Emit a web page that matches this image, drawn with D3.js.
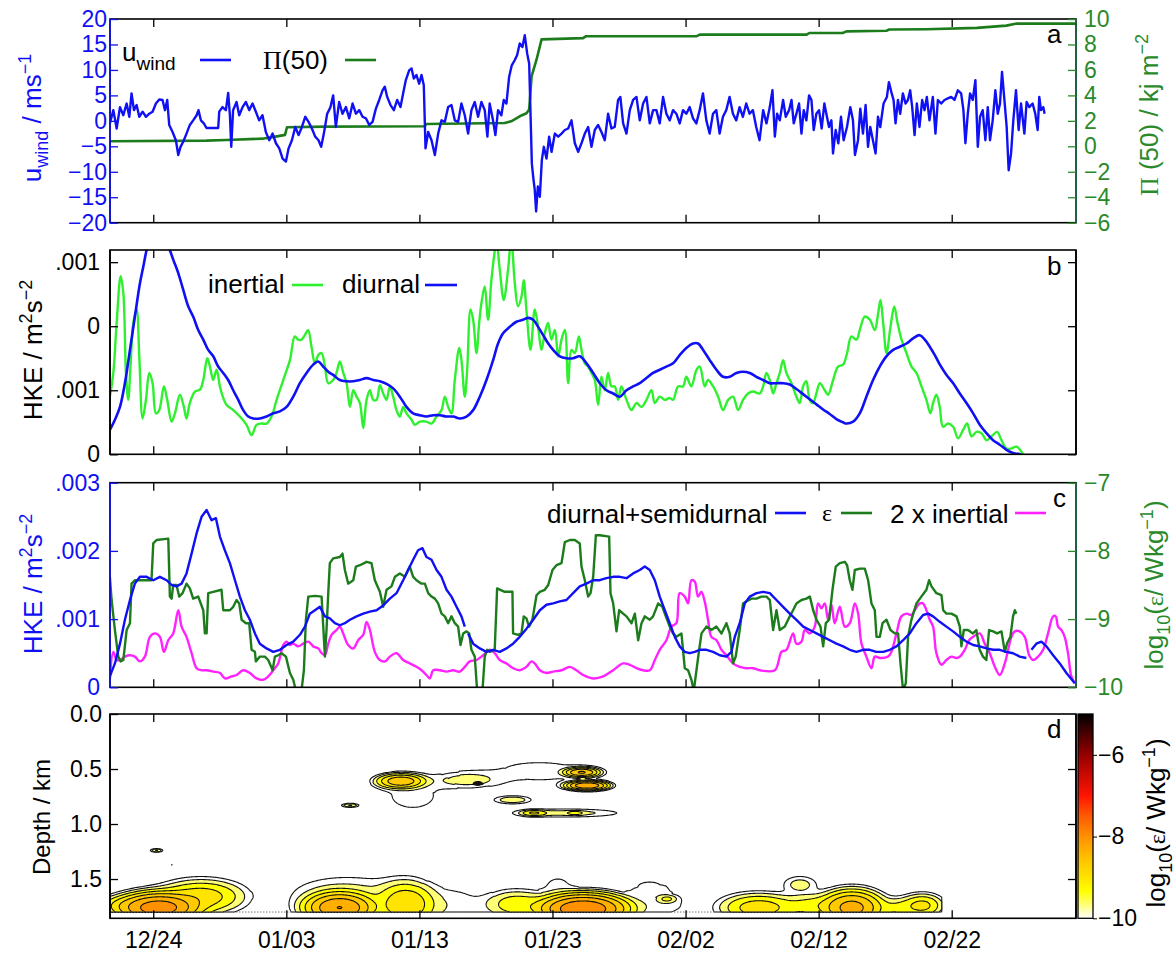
<!DOCTYPE html>
<html>
<head>
<meta charset="utf-8">
<script src="https://cdn.jsdelivr.net/npm/d3@7"></script>
<style>
  body { margin: 0; background: #fff; }
  svg { display: block; }
  text { font-family: "Liberation Sans", Arial, Helvetica, sans-serif; }
  .serif { font-family: "Liberation Serif", "Times New Roman", serif; }
</style>
</head>
<body>
<svg id="chart" width="1176" height="954"></svg>
<script>
// ---- time axis: days relative to 24 December ----
const dayTicks = [0, 10, 20, 30, 40, 50, 60];
const dateLabels = ["12/24", "01/03", "01/13", "01/23", "02/02", "02/12", "02/22"];

// ---- panel a: zonal wind (m/s) and wind work Pi(50) (kJ/m^2) ----
const windU = [[-3.26,-0.5],[-3.0,2.1],[-2.75,-1.5],[-2.5,2.7],[-2.25,1.1],[-2.0,3.4],[-1.8,0.8],[-1.63,5.4],[-1.45,2.1],[-1.25,3.1],[-1.05,0.8],[-0.8,1.8],[-0.55,0.8],[-0.3,1.4],[-0.05,1.8],[0.2,3.4],[0.45,4.2],[0.7,4.1],[0.88,2.1],[1.05,4.1],[1.2,-0.8],[1.45,-2.2],[1.7,-3.8],[1.88,-6.7],[2.05,-5.1],[2.25,-4.1],[2.5,-2.5],[2.75,-0.8],[3.0,0.1],[3.26,1.1],[3.4,2.1],[3.58,0.1],[3.8,-0.5],[4.0,-1.4],[4.88,-1.4],[4.96,1.8],[5.2,2.7],[5.46,2.1],[5.63,5.5],[5.76,1.1],[5.86,-5.1],[6.0,2.1],[6.26,3.7],[6.46,1.1],[6.71,2.7],[6.96,3.7],[7.21,2.1],[7.46,3.4],[7.71,1.8],[7.96,0.1],[8.21,1.1],[8.46,-2.2],[8.72,-3.8],[8.97,-2.5],[9.22,-4.4],[9.47,-5.4],[9.72,-7.4],[9.97,-8.0],[10.17,-5.4],[10.42,-3.8],[10.67,-1.2],[10.92,-2.8],[11.17,-1.2],[11.42,0.8],[11.67,-0.2],[11.92,-1.5],[12.17,-3.1],[12.42,-3.8],[12.62,-5.1],[12.82,-2.5],[13.07,1.4],[13.32,2.7],[13.52,5.0],[13.72,-1.2],[13.97,3.7],[14.22,1.4],[14.48,2.7],[14.73,0.5],[14.98,3.4],[15.23,1.4],[15.48,2.1],[15.73,0.8],[15.98,0.5],[16.23,-0.8],[16.48,-0.2],[16.73,2.4],[16.98,4.1],[17.23,6.0],[17.4,6.7],[17.58,4.7],[17.83,3.1],[18.08,2.1],[18.33,4.1],[18.58,2.7],[18.78,5.4],[18.98,8.0],[19.23,9.9],[19.41,10.3],[19.58,8.3],[19.78,9.0],[19.98,7.3],[20.16,9.0],[20.33,7.0],[20.46,-5.4],[20.66,-2.2],[20.91,-3.8],[21.16,-6.7],[21.41,-2.5],[21.66,0.1],[21.91,-0.2],[22.16,2.7],[22.41,3.1],[22.66,0.1],[22.91,-0.2],[23.16,3.4],[23.41,1.1],[23.66,-2.5],[23.91,2.1],[24.16,3.7],[24.41,0.8],[24.66,3.7],[24.91,2.1],[25.11,-3.1],[25.28,3.4],[25.53,0.1],[25.71,-2.8],[25.91,2.1],[26.16,1.1],[26.34,4.1],[26.54,3.4],[26.74,8.6],[26.94,10.9],[27.16,11.9],[27.34,12.9],[27.54,15.2],[27.74,14.5],[27.92,16.8],[28.1,13.2],[28.25,11.2],[28.35,1.4],[28.45,-8.4],[28.55,-11.0],[28.67,-13.6],[28.77,-17.8],[28.9,-12.9],[29.05,-14.9],[29.2,-7.7],[29.35,-5.1],[29.55,-7.4],[29.75,-3.1],[29.93,-6.1],[30.18,-2.5],[30.43,-3.1],[30.68,-2.5],[30.93,-1.8],[31.18,-1.5],[31.43,0.1],[31.68,-4.4],[31.93,-6.1],[32.18,-4.4],[32.43,-2.5],[32.68,-1.2],[32.93,-5.1],[33.18,-1.8],[33.43,-0.8],[33.68,-2.2],[33.93,-3.8],[34.18,1.4],[34.43,-1.5],[34.68,-1.2],[34.93,4.1],[35.1,4.7],[35.31,-0.5],[35.56,-2.5],[35.81,2.1],[36.06,4.1],[36.31,4.7],[36.56,0.1],[36.81,3.4],[37.06,4.7],[37.31,-0.5],[37.56,2.1],[37.81,2.1],[38.06,-0.5],[38.31,4.7],[38.56,1.4],[38.81,0.1],[39.06,2.1],[39.31,1.4],[39.56,-0.5],[39.81,2.1],[40.06,1.4],[40.31,2.7],[40.56,0.5],[40.81,-0.5],[41.06,2.1],[41.31,5.4],[41.56,0.1],[41.81,-2.5],[42.06,1.4],[42.31,2.1],[42.56,-2.5],[42.81,0.8],[43.06,2.1],[43.31,4.7],[43.56,1.4],[43.81,0.1],[44.06,2.7],[44.31,0.8],[44.56,3.4],[44.81,1.4],[45.06,2.1],[45.31,-1.2],[45.56,-3.8],[45.83,2.1],[46.08,-0.5],[46.33,2.7],[46.53,6.0],[46.71,-3.1],[46.88,1.4],[47.08,0.1],[47.33,4.1],[47.53,0.8],[47.78,2.1],[47.96,4.1],[48.13,-0.5],[48.33,1.4],[48.53,3.4],[48.71,-2.5],[48.88,2.1],[49.08,0.1],[49.28,5.0],[49.46,4.1],[49.63,-1.8],[49.83,1.4],[50.03,2.1],[50.23,-1.5],[50.43,3.4],[50.58,1.4],[50.78,-1.2],[50.96,0.1],[51.08,-6.4],[51.28,-1.8],[51.48,-4.4],[51.68,0.8],[51.88,-3.8],[52.13,-1.2],[52.38,2.7],[52.58,0.1],[52.73,-6.7],[52.96,-3.8],[53.13,2.4],[53.33,-2.5],[53.53,3.1],[53.71,-5.1],[53.88,-1.2],[54.08,-3.8],[54.28,-6.4],[54.46,0.8],[54.63,-1.2],[54.88,3.4],[55.13,4.7],[55.28,7.6],[55.46,5.7],[55.63,4.1],[55.78,-0.5],[55.96,4.1],[56.13,1.4],[56.33,5.4],[56.53,3.4],[56.71,4.1],[56.88,6.0],[57.03,2.7],[57.21,-2.8],[57.38,3.4],[57.58,-1.2],[57.78,4.1],[57.96,2.1],[58.13,4.7],[58.33,0.1],[58.58,4.7],[58.78,-2.5],[58.96,4.1],[59.21,3.4],[59.46,4.1],[59.71,4.4],[59.96,4.7],[60.21,4.1],[60.46,6.0],[60.71,5.4],[60.88,2.1],[61.03,-4.4],[61.21,1.4],[61.38,5.4],[61.58,4.1],[61.78,8.0],[61.96,-5.1],[62.13,0.8],[62.33,2.1],[62.53,-3.8],[62.71,2.7],[62.88,-3.8],[63.08,0.1],[63.28,6.0],[63.46,1.4],[63.63,3.4],[63.78,9.6],[63.96,4.1],[64.13,-1.2],[64.28,-9.7],[64.46,-6.4],[64.63,0.1],[64.83,6.0],[65.03,-1.8],[65.21,3.4],[65.46,-2.5],[65.63,3.7],[65.83,2.7],[66.08,3.4],[66.28,1.4],[66.46,-1.8],[66.58,4.7],[66.71,2.1],[66.88,2.7],[66.98,1.4]];

const windWork = [[-3.25,0.4],[4.0,0.45],[5.5,0.5],[8.2,0.6],[9.4,0.8],[9.9,0.9],[10.05,1.5],[13.0,1.55],[20.4,1.57],[20.5,1.75],[26.4,1.83],[26.9,1.96],[27.54,2.36],[28.05,2.6],[28.25,2.9],[28.43,5.5],[28.8,6.8],[29.18,8.4],[32.3,8.5],[32.5,8.64],[40.8,8.64],[41.07,8.77],[49.1,8.77],[49.3,8.9],[51.8,8.9],[52.1,9.03],[55.1,9.08],[55.3,9.17],[58.1,9.2],[61.9,9.3],[64.1,9.48],[64.9,9.64],[69.34,9.64]];

// ---- panel b: band-passed kinetic energy (1e-3 m^2 s^-2) ----
const hkeInertial = [[-3.26,0.9],[-3.0,1.27],[-2.75,2.05],[-2.45,2.78],[-2.25,2.52],[-2.05,1.27],[-1.88,0.85],[-1.7,1.42],[-1.5,2.05],[-1.25,2.26],[-1.05,1.53],[-0.8,0.56],[-0.55,0.85],[-0.3,1.27],[-0.05,1.11],[0.2,0.64],[0.45,0.69],[0.8,1.06],[1.05,0.85],[1.38,0.51],[1.63,0.64],[2.0,0.93],[2.3,0.74],[2.5,0.56],[2.75,0.8],[3.13,0.98],[3.51,1.01],[3.76,1.16],[4.06,1.5],[4.26,1.37],[4.51,1.16],[4.76,1.32],[5.01,1.06],[5.26,0.88],[5.51,0.77],[6.01,0.69],[6.51,0.59],[7.01,0.46],[7.39,0.3],[7.76,0.46],[8.14,0.48],[8.51,0.48],[8.89,0.59],[9.27,0.85],[9.77,1.16],[10.27,1.47],[10.64,1.84],[10.89,1.79],[11.14,1.79],[11.39,1.86],[11.64,1.94],[11.89,1.68],[12.15,1.42],[12.4,1.55],[12.65,1.58],[12.9,1.37],[13.15,1.11],[13.52,1.16],[13.77,1.27],[14.02,1.45],[14.28,1.27],[14.53,1.11],[14.78,0.74],[15.03,1.0],[15.28,0.9],[15.53,0.8],[15.78,0.41],[16.03,0.85],[16.28,1.0],[16.53,0.85],[16.78,0.85],[17.03,1.08],[17.28,0.95],[17.53,0.85],[17.78,1.06],[18.03,0.9],[18.28,0.69],[18.53,0.59],[18.78,0.74],[19.03,0.64],[19.41,0.54],[19.66,0.46],[20.03,0.51],[20.53,0.51],[20.91,0.48],[21.29,0.59],[21.66,0.69],[21.91,0.9],[22.16,0.74],[22.41,0.64],[22.66,1.16],[22.99,1.66],[23.16,1.47],[23.41,0.9],[23.59,1.32],[23.84,2.26],[24.04,2.1],[24.29,1.58],[24.49,2.05],[24.66,2.36],[24.91,2.62],[25.16,2.1],[25.41,2.72],[25.67,3.19],[25.79,3.35],[26.04,2.88],[26.34,2.41],[26.66,2.88],[26.9,3.35],[27.17,2.67],[27.41,2.31],[27.67,2.46],[27.84,2.72],[28.04,2.26],[28.35,1.63],[28.67,2.26],[28.92,1.99],[29.17,1.63],[29.42,1.89],[29.67,2.05],[29.92,1.79],[30.18,1.94],[30.43,1.53],[30.68,1.79],[30.93,1.94],[31.18,1.11],[31.43,1.63],[31.68,1.58],[31.98,1.84],[32.18,1.63],[32.43,1.42],[32.68,1.37],[32.93,1.27],[33.18,1.16],[33.43,0.77],[33.68,1.21],[33.93,1.0],[34.18,1.27],[34.43,1.06],[34.68,1.06],[34.93,0.85],[35.18,1.06],[35.56,0.85],[35.94,0.69],[36.31,0.8],[36.69,0.74],[37.06,0.85],[37.44,1.0],[37.69,0.8],[38.06,0.9],[38.44,0.85],[38.81,0.88],[39.06,0.85],[39.44,1.06],[39.81,1.06],[40.06,1.21],[40.43,1.06],[40.82,1.32],[41.07,1.37],[41.44,1.06],[41.69,1.16],[42.07,1.06],[42.45,0.9],[42.82,0.69],[43.2,0.85],[43.57,0.9],[43.95,0.69],[44.32,0.85],[44.7,0.95],[45.08,0.98],[45.58,0.95],[45.83,1.06],[46.08,1.27],[46.33,1.16],[46.58,0.95],[46.83,1.11],[47.08,1.27],[47.33,1.47],[47.58,1.27],[47.96,1.11],[48.33,0.9],[48.58,0.8],[48.83,1.06],[49.08,1.14],[49.33,0.85],[49.58,0.8],[49.83,0.95],[50.09,1.11],[50.46,1.0],[50.71,0.93],[51.09,1.16],[51.46,1.37],[51.84,1.4],[52.14,1.58],[52.46,1.84],[52.84,1.79],[53.09,1.94],[53.47,2.15],[53.85,2.1],[54.22,1.94],[54.47,2.2],[54.65,2.41],[54.85,2.05],[55.1,1.58],[55.4,1.99],[55.68,2.31],[55.93,2.05],[56.23,1.79],[56.6,1.58],[56.98,1.37],[57.35,1.27],[57.73,1.06],[58.1,0.85],[58.4,0.64],[58.6,0.8],[58.85,0.93],[59.1,0.74],[59.35,0.43],[59.73,0.48],[60.11,0.43],[60.48,0.25],[60.86,0.38],[61.16,0.48],[61.49,0.28],[61.86,0.35],[62.24,0.33],[62.61,0.22],[62.99,0.28],[63.41,0.35],[63.74,0.22],[64.12,0.09],[64.49,0.09],[64.87,0.12],[65.37,0.0]];

const hkeDiurnal = [[-3.26,0.38],[-2.88,0.54],[-2.5,0.74],[-2.13,1.11],[-1.75,1.63],[-1.38,2.15],[-1.0,2.67],[-0.75,2.93],[-0.5,3.19],[-0.1,3.5],[0.4,3.65],[0.9,3.4],[1.25,3.19],[1.5,3.04],[1.88,2.83],[2.25,2.57],[2.63,2.31],[3.0,2.15],[3.38,1.94],[3.76,1.79],[4.13,1.63],[4.51,1.53],[4.88,1.37],[5.26,1.27],[5.63,1.16],[6.01,1.0],[6.39,0.85],[6.76,0.69],[7.14,0.59],[7.51,0.56],[8.01,0.56],[8.51,0.59],[9.02,0.64],[9.52,0.67],[10.02,0.74],[10.52,0.9],[11.02,1.11],[11.52,1.27],[12.02,1.4],[12.4,1.45],[12.77,1.37],[13.15,1.29],[13.52,1.24],[14.02,1.16],[14.53,1.14],[15.03,1.14],[15.53,1.16],[16.03,1.19],[16.53,1.16],[17.03,1.14],[17.53,1.1],[18.03,1.03],[18.53,0.9],[19.03,0.74],[19.53,0.64],[20.03,0.61],[20.53,0.59],[21.04,0.61],[21.54,0.61],[22.04,0.59],[22.54,0.59],[23.04,0.56],[23.54,0.59],[24.04,0.69],[24.54,0.9],[25.04,1.16],[25.54,1.47],[25.91,1.73],[26.29,1.89],[26.79,1.99],[27.29,2.07],[27.79,2.1],[28.17,2.13],[28.55,2.1],[28.92,1.99],[29.3,1.86],[29.68,1.73],[30.05,1.63],[30.55,1.53],[31.05,1.5],[31.55,1.5],[32.05,1.53],[32.56,1.42],[33.06,1.27],[33.56,1.11],[34.06,1.0],[34.56,0.95],[35.06,0.9],[35.56,1.0],[36.06,1.06],[36.56,1.11],[37.06,1.19],[37.56,1.27],[38.06,1.32],[38.56,1.37],[39.06,1.42],[39.56,1.55],[40.06,1.66],[40.57,1.73],[40.94,1.73],[41.32,1.63],[41.82,1.47],[42.32,1.32],[42.82,1.21],[43.32,1.21],[43.82,1.27],[44.32,1.29],[44.82,1.27],[45.32,1.21],[45.83,1.16],[46.33,1.11],[46.83,1.11],[47.33,1.11],[47.83,1.09],[48.33,1.02],[48.83,0.94],[49.33,0.86],[49.83,0.78],[50.33,0.7],[50.83,0.63],[51.33,0.55],[51.83,0.5],[52.09,0.48],[52.59,0.51],[53.09,0.64],[53.59,0.9],[54.09,1.16],[54.59,1.37],[55.09,1.53],[55.6,1.63],[56.1,1.68],[56.6,1.73],[57.1,1.81],[57.6,1.86],[57.98,1.79],[58.35,1.68],[58.73,1.55],[59.11,1.4],[59.61,1.24],[60.11,1.11],[60.61,0.95],[61.11,0.8],[61.61,0.64],[62.11,0.46],[62.61,0.33],[63.11,0.22],[63.61,0.15],[64.11,0.07],[64.61,0.02],[65.19,0.0]];

// ---- panel c: tidal HKE (1e-3 m^2 s^-2), log10 dissipation, 2 x inertial HKE ----
const hkeTidal = [[-3.26,0.16],[-2.88,0.35],[-2.5,0.64],[-2.13,0.99],[-1.75,1.28],[-1.38,1.52],[-1.0,1.62],[-0.5,1.62],[0.0,1.57],[0.5,1.62],[1.0,1.57],[1.38,1.5],[1.75,1.48],[2.13,1.52],[2.5,1.67],[2.88,1.96],[3.26,2.26],[3.63,2.5],[4.01,2.6],[4.38,2.45],[4.71,2.48],[5.01,2.21],[5.38,2.01],[5.76,1.82],[6.14,1.57],[6.51,1.33],[6.89,1.13],[7.26,0.99],[7.64,0.79],[8.01,0.64],[8.51,0.57],[9.02,0.52],[9.52,0.55],[10.02,0.62],[10.52,0.67],[11.02,0.77],[11.4,0.89],[11.77,1.08],[12.15,1.13],[12.52,1.18],[12.9,1.04],[13.27,1.01],[13.65,0.94],[14.02,0.91],[14.4,0.94],[14.78,0.99],[15.28,1.04],[15.78,1.08],[16.28,1.11],[16.78,1.13],[17.28,1.2],[17.78,1.3],[18.28,1.38],[18.78,1.57],[19.15,1.72],[19.53,1.87],[19.9,2.01],[20.23,2.04],[20.53,1.91],[20.91,1.87],[21.29,1.72],[21.66,1.62],[22.04,1.43],[22.41,1.33],[22.79,1.18],[23.16,1.04],[23.41,0.89],[23.5,null],[23.66,0.79],[24.04,0.64],[24.54,0.57],[25.04,0.52],[25.54,0.55],[26.04,0.52],[26.54,0.57],[27.04,0.64],[27.54,0.74],[28.05,0.86],[28.55,0.99],[29.05,1.13],[29.55,1.21],[30.05,1.23],[30.55,1.26],[31.05,1.28],[31.55,1.38],[32.05,1.48],[32.55,1.52],[33.05,1.57],[33.55,1.57],[34.05,1.6],[34.56,1.62],[35.06,1.62],[35.56,1.6],[36.06,1.67],[36.56,1.72],[36.94,1.77],[37.31,1.72],[37.69,1.57],[38.06,1.33],[38.44,1.13],[38.81,0.94],[39.19,0.74],[39.56,0.6],[39.94,0.52],[40.31,0.5],[40.69,0.52],[41.07,0.55],[41.57,0.55],[42.07,0.52],[42.57,0.47],[43.07,0.45],[43.45,0.52],[43.7,0.74],[44.07,0.94],[44.45,1.23],[44.82,1.33],[45.33,1.38],[45.83,1.4],[46.33,1.38],[46.83,1.28],[47.33,1.18],[47.83,1.08],[48.33,0.99],[48.84,0.89],[49.34,0.84],[49.84,0.79],[50.34,0.74],[50.84,0.69],[51.34,0.64],[51.84,0.6],[52.34,0.55],[52.84,0.52],[53.34,0.55],[53.84,0.55],[54.34,0.52],[54.85,0.52],[55.35,0.55],[55.85,0.6],[56.35,0.69],[56.85,0.79],[57.35,0.94],[57.85,1.06],[58.23,1.08],[58.6,1.04],[59.1,0.96],[59.6,0.89],[60.1,0.82],[60.61,0.74],[61.11,0.67],[61.61,0.62],[62.11,0.6],[62.61,0.57],[63.11,0.55],[63.61,0.55],[64.11,0.52],[64.61,0.5],[65.11,0.45],[65.61,0.43],[65.8,null],[65.99,0.55],[66.36,0.64],[66.74,0.67],[67.12,0.6],[67.62,0.47],[68.12,0.35],[68.62,0.21],[69.25,0.06]];

const logEps = [[-3.26,-8.38],[-3.13,-8.72],[-2.88,-9.16],[-2.63,-9.55],[-2.45,-9.62],[-2.25,-9.6],[-2.0,-9.16],[-1.75,-9.06],[-1.63,-8.48],[-1.38,-8.43],[-0.13,-8.43],[0.0,-7.89],[0.25,-7.84],[1.13,-7.82],[1.25,-8.67],[1.38,-8.7],[1.5,-8.5],[1.75,-8.5],[1.95,-8.67],[2.2,-8.62],[2.5,-8.48],[2.75,-8.55],[3.0,-8.7],[3.38,-8.67],[3.76,-8.87],[3.88,-9.21],[4.01,-9.21],[4.13,-8.62],[4.51,-8.6],[5.13,-8.57],[5.26,-8.87],[5.76,-8.87],[6.01,-8.82],[6.26,-8.72],[6.46,-8.77],[6.64,-9.01],[6.96,-9.06],[7.21,-9.06],[7.39,-9.45],[7.64,-9.48],[7.71,-9.62],[8.01,-9.55],[8.39,-9.55],[8.64,-9.6],[8.97,-9.75],[9.14,-9.55],[9.39,-9.53],[9.64,-9.5],[9.97,-9.55],[10.27,-9.79],[10.52,-9.89],[10.72,-10.05],[11.14,-10.05],[11.32,-9.75],[11.47,-9.01],[11.65,-8.67],[12.15,-8.66],[12.65,-8.67],[12.9,-9.55],[13.02,-9.16],[13.15,-8.62],[13.27,-8.18],[13.52,-8.11],[14.02,-8.09],[14.22,-8.04],[14.4,-8.28],[14.65,-8.48],[15.03,-8.43],[15.23,-8.23],[15.53,-8.21],[16.03,-8.16],[16.4,-8.18],[16.65,-8.43],[17.03,-8.6],[17.28,-8.82],[17.53,-8.57],[17.9,-8.52],[18.16,-8.38],[18.53,-8.33],[18.91,-8.38],[19.28,-8.23],[19.53,-8.38],[19.78,-8.43],[20.16,-8.48],[20.41,-8.48],[20.66,-8.62],[20.91,-8.67],[21.16,-8.7],[21.41,-8.77],[21.66,-8.92],[21.91,-8.96],[22.16,-9.06],[22.41,-8.96],[22.66,-9.06],[22.91,-9.11],[23.09,-9.38],[23.29,-9.21],[23.54,-9.18],[23.74,-9.21],[23.91,-9.45],[24.16,-9.55],[24.34,-10.05],[24.74,-10.05],[24.91,-9.55],[25.09,-9.45],[25.29,-9.48],[25.66,-9.45],[25.84,-8.55],[26.41,-8.6],[26.99,-8.6],[27.04,-9.21],[27.42,-9.23],[27.67,-9.21],[27.84,-8.96],[28.04,-8.99],[28.24,-9.11],[28.49,-9.01],[28.8,-8.65],[29.05,-8.6],[29.42,-8.57],[29.68,-8.5],[30.0,-8.28],[30.3,-8.21],[30.68,-8.18],[30.93,-7.87],[31.3,-7.84],[31.68,-7.84],[32.05,-7.89],[32.18,-8.23],[32.43,-8.43],[32.68,-8.67],[32.86,-8.62],[33.06,-8.38],[33.26,-7.77],[33.56,-7.77],[34.26,-7.79],[34.36,-8.62],[34.56,-8.77],[34.81,-9.18],[35.01,-8.87],[35.31,-8.92],[35.56,-8.96],[35.94,-9.06],[36.19,-8.92],[36.44,-9.31],[36.69,-9.06],[36.94,-8.96],[37.31,-9.01],[37.56,-8.96],[37.94,-8.77],[38.26,-8.82],[38.44,-8.92],[38.81,-9.11],[39.06,-9.21],[39.31,-9.26],[39.69,-9.21],[39.94,-9.72],[40.19,-9.75],[40.44,-9.89],[40.62,-10.05],[40.82,-9.75],[41.02,-9.45],[41.2,-9.21],[41.57,-9.11],[41.94,-9.16],[42.32,-9.11],[42.7,-9.21],[43.07,-9.06],[43.32,-9.21],[43.57,-9.65],[43.77,-9.55],[44.07,-9.16],[44.32,-8.77],[44.57,-8.74],[44.95,-8.7],[45.33,-8.7],[45.7,-8.67],[46.08,-8.67],[46.33,-8.72],[46.58,-9.16],[46.83,-8.87],[47.08,-9.16],[47.46,-9.11],[47.83,-8.96],[48.08,-8.87],[48.33,-8.77],[48.71,-8.72],[49.08,-8.7],[49.34,-8.67],[49.59,-8.87],[49.84,-9.01],[50.14,-9.11],[50.34,-9.4],[50.54,-9.06],[50.79,-9.01],[51.04,-8.57],[51.29,-8.23],[51.59,-8.18],[51.97,-8.16],[52.14,-8.21],[52.34,-8.43],[52.54,-8.57],[52.72,-8.28],[53.09,-8.26],[53.47,-8.26],[53.72,-8.43],[53.97,-8.77],[54.22,-8.87],[54.35,-9.26],[54.6,-9.26],[54.8,-9.06],[55.1,-9.01],[55.4,-9.16],[55.72,-9.21],[55.97,-9.21],[56.15,-9.65],[56.35,-10.05],[56.55,-9.94],[56.72,-9.26],[56.97,-9.01],[57.35,-8.77],[57.72,-8.67],[58.1,-8.57],[58.3,-8.43],[58.48,-8.52],[58.85,-8.62],[59.23,-8.65],[59.36,-8.87],[59.6,-8.92],[59.98,-8.92],[60.36,-8.96],[60.61,-9.11],[60.73,-9.4],[60.91,-9.16],[61.22,-9.16],[61.6,-9.21],[61.85,-9.16],[62.1,-9.45],[62.35,-9.55],[62.6,-9.6],[62.81,-9.16],[63.11,-9.18],[63.41,-9.21],[63.74,-9.18],[63.99,-9.48],[64.17,-9.35],[64.41,-9.26],[64.61,-8.96],[64.74,-8.87],[64.86,-8.92]];

const hkeInertial2x = [[-3.26,0.11],[-3.0,0.52],[-2.75,0.4],[-2.5,0.4],[-2.13,0.45],[-1.75,0.47],[-1.38,0.45],[-1.0,0.38],[-0.63,0.45],[-0.25,0.74],[0.13,0.79],[0.5,0.74],[0.8,0.52],[1.13,0.69],[1.5,0.79],[1.88,1.13],[2.13,0.89],[2.5,0.74],[2.88,0.5],[3.26,0.28],[3.63,0.25],[4.01,0.25],[4.51,0.23],[5.01,0.21],[5.38,0.13],[5.89,0.16],[6.26,0.18],[6.76,0.25],[7.26,0.21],[7.76,0.13],[8.26,0.11],[8.64,0.16],[9.02,0.25],[9.39,0.35],[9.77,0.62],[10.02,0.67],[10.27,0.62],[10.52,0.64],[10.89,0.6],[11.27,0.64],[11.65,0.67],[12.02,0.6],[12.4,0.57],[12.65,0.5],[12.9,0.47],[13.15,0.64],[13.4,0.77],[13.77,0.84],[14.02,0.89],[14.27,0.79],[14.65,0.62],[15.03,0.57],[15.4,0.69],[15.78,0.77],[16.03,0.96],[16.28,0.84],[16.65,0.52],[17.03,0.4],[17.41,0.38],[17.78,0.45],[18.28,0.5],[18.78,0.4],[19.28,0.35],[19.78,0.3],[20.16,0.25],[20.53,0.18],[20.78,0.13],[21.04,0.25],[21.54,0.25],[22.04,0.23],[22.54,0.25],[23.04,0.23],[23.41,0.3],[23.79,0.38],[24.29,0.4],[24.79,0.47],[25.29,0.55],[25.66,0.5],[26.04,0.4],[26.54,0.35],[27.04,0.28],[27.54,0.25],[28.04,0.3],[28.42,0.38],[28.67,0.35],[29.05,0.25],[29.55,0.21],[30.05,0.23],[30.68,0.25],[31.3,0.3],[31.8,0.25],[32.3,0.18],[33.06,0.13],[33.81,0.16],[34.56,0.25],[35.31,0.35],[35.81,0.33],[36.31,0.28],[36.81,0.25],[37.31,0.25],[37.69,0.4],[38.06,0.55],[38.56,0.69],[38.94,0.89],[39.31,0.94],[39.56,1.38],[39.94,1.33],[40.19,1.23],[40.44,1.57],[40.69,1.55],[40.94,1.33],[41.19,1.4],[41.44,1.26],[41.69,0.99],[41.94,0.74],[42.32,0.69],[42.7,0.55],[43.07,0.47],[43.57,0.35],[44.07,0.3],[44.57,0.28],[45.08,0.28],[45.58,0.25],[46.71,0.25],[47.21,0.52],[47.58,0.55],[48.08,0.79],[48.33,0.64],[48.71,0.67],[48.96,0.84],[49.34,0.79],[49.71,0.89],[49.96,1.23],[50.21,1.16],[50.46,1.23],[50.71,0.99],[50.96,1.21],[51.21,0.94],[51.59,1.18],[51.97,0.89],[52.34,0.94],[52.72,1.23],[52.97,1.08],[53.22,0.64],[53.59,0.45],[53.97,0.28],[54.22,0.45],[54.6,0.43],[55.22,0.45],[55.47,0.52],[55.85,0.79],[56.22,1.04],[56.6,1.08],[56.97,1.06],[57.22,1.13],[57.6,1.23],[57.85,1.23],[58.1,1.13],[58.35,0.99],[58.6,0.89],[58.85,0.5],[59.23,0.33],[59.6,0.4],[59.98,0.45],[60.36,0.43],[60.61,0.45],[60.98,0.55],[61.31,0.69],[61.61,0.74],[62.11,0.79],[62.48,0.64],[62.86,0.5],[63.24,0.3],[63.61,0.18],[63.99,0.35],[64.24,0.55],[64.49,0.74],[64.74,0.82],[65.11,0.82],[65.49,0.74],[65.82,0.47],[66.12,0.4],[66.49,0.45],[66.87,0.55],[67.24,0.79],[67.62,1.04],[67.82,1.04],[67.99,0.89],[68.24,0.84],[68.49,0.74],[68.74,0.5],[68.99,0.16],[69.25,0.06]];

// ---- panel d: dissipation patches [day, depth km, half-length days, half-thickness km, peak log10 eps] ----
const epsPatches = [
  // near-bottom layer
  [0.4, 1.76, 4.4, 0.2, -7.8], [3.6, 1.66, 4.0, 0.19, -8.8], [-2.2, 1.74, 2.2, 0.1, -9.1],
  [14.0, 1.76, 3.7, 0.2, -8.0], [14.6, 1.63, 4.2, 0.16, -9.6], [19.0, 1.73, 2.8, 0.26, -8.7], [22.4, 1.74, 2.0, 0.15, -9.75],
  [32.3, 1.77, 4.8, 0.2, -7.7], [27.3, 1.73, 2.8, 0.15, -9.1], [30.4, 1.55, 0.9, 0.07, -9.9],
  [37.3, 1.57, 1.2, 0.06, -9.9], [38.6, 1.68, 0.8, 0.04, -9.3], [38.0, 1.73, 2.0, 0.1, -9.8],
  [45.5, 1.76, 3.6, 0.16, -8.8], [49.5, 1.74, 2.5, 0.12, -9.2], [52.5, 1.76, 3.2, 0.22, -8.2],
  [48.6, 1.55, 1.3, 0.08, -9.5], [56.0, 1.76, 1.8, 0.1, -9.3], [57.8, 1.74, 1.9, 0.13, -8.9],
  // mid-depth patches
  [18.6, 0.61, 2.4, 0.09, -8.4], [19.5, 0.74, 2.0, 0.14, -9.85], [23.5, 0.6, 2.6, 0.08, -9.5],
  [24.4, 0.63, 0.35, 0.015, -7.0], [32.2, 0.53, 1.8, 0.06, -8.3], [32.6, 0.65, 2.2, 0.06, -8.0],
  [29.0, 0.52, 3.5, 0.1, -9.85], [27.0, 0.78, 1.5, 0.04, -9.4], [31.0, 0.9, 4.2, 0.04, -9.5],
  [28.6, 0.9, 1.2, 0.035, -9.0], [31.7, 0.9, 0.7, 0.02, -9.2], [14.8, 0.83, 0.7, 0.02, -9.3],
  [0.25, 1.24, 0.5, 0.018, -9.3], [1.4, 1.37, 0.08, 0.004, -9.9]
];
const epsRecordStart = -3.25, epsRecordEnd = 59.2, epsMaxDepth = 1.8;
const epsLevels = [-10, -9.667, -9.333, -9, -8.667, -8.333, -8, -7.667, -7.333, -7, -6.5, -6];

// colour map for log10 eps
const cmapStops = [-10, -9.667, -9.333, -9, -8.5, -8, -7.5, -7, -6, -5];
const cmapColors = ["#ffffff", "#ffff78", "#ffff00", "#ffe400", "#ffbe00", "#ff9000", "#ff5a00", "#ff1400", "#960000", "#000000"];

// axis tick text
const windTicks = [-20, -15, -10, -5, 0, 5, 10, 15, 20];
const workTicks = [-6, -4, -2, 0, 2, 4, 6, 8, 10];
const hkeBTicks = [0, 1, 2, 3];
const hkeBTickText = ["0", ".001", "0", ".001"];
const hkeCTicks = [0, 1, 2, 3];
const hkeCTickText = ["0", ".001", ".002", ".003"];
const epsTicks = [-10, -9, -8, -7];
const depthTicks = [0, 0.5, 1.0, 1.5];
const cbarTicks = [-10, -8, -6];

// ---------------------------------------------------------------
const BLUE = "#1010f4", LGREEN = "#2ef02e", DGREEN = "#1c7c1c", MAG = "#ff22ff";
const AXGREEN = "#2a8a2a", SPINEGREEN = "#1e6b48";
const minus = v => (v < 0 ? "\u2212" + Math.abs(v) : String(v));

const svg = d3.select("#chart");
const L = 110, R = 1076;
const x = d3.scaleLinear().domain([-3.25, 69.34]).range([L, R]);

const panels = {
  a: [19, 222.7], b: [250, 454.3], c: [482.7, 687.3], d: [714, 918.3]
};
const yA = d3.scaleLinear().domain([-20, 20]).range([panels.a[1], panels.a[0]]);
const yA2 = d3.scaleLinear().domain([-6, 10]).range([panels.a[1], panels.a[0]]);
const yB = d3.scaleLinear().domain([0, 3.19]).range([panels.b[1], panels.b[0]]);
const yC = d3.scaleLinear().domain([0, 3]).range([panels.c[1], panels.c[0]]);
const yC2 = d3.scaleLinear().domain([-10, -7]).range([panels.c[1], panels.c[0]]);
const yD = d3.scaleLinear().domain([0, 1.857]).range([panels.d[0], panels.d[1]]);
const cmap = d3.scaleLinear().domain(cmapStops).range(cmapColors).clamp(true);

const defs = svg.append("defs");
Object.entries(panels).forEach(([k, [t, b]]) => {
  defs.append("clipPath").attr("id", "clip-" + k)
    .append("rect").attr("x", L).attr("y", t).attr("width", R - L).attr("height", b - t);
});

function drawLine(panel, data, yScale, color, width, curve) {
  const line = d3.line().defined(d => d[1] !== null).x(d => x(d[0])).y(d => yScale(d[1]))
    .curve(curve || d3.curveLinear);
  svg.append("path").datum(data)
    .attr("clip-path", `url(#clip-${panel})`)
    .attr("fill", "none").attr("stroke", color).attr("stroke-width", width)
    .attr("stroke-linejoin", "round").attr("d", line);
}

function xTicks(top, bottom, labels) {
  const gt = svg.append("g").attr("transform", `translate(0,${top})`)
    .call(d3.axisTop(x).tickValues(dayTicks).tickSizeInner(-8).tickSizeOuter(0).tickFormat(""));
  const gb = svg.append("g").attr("transform", `translate(0,${bottom})`)
    .call(d3.axisBottom(x).tickValues(dayTicks).tickSizeInner(-8).tickSizeOuter(0).tickPadding(13)
      .tickFormat(labels ? (d, i) => dateLabels[i] : ""));
  [gt, gb].forEach(g => {
    g.select(".domain").remove();
    g.selectAll(".tick line").attr("stroke", "#000").attr("stroke-width", 1.3);
    g.selectAll("text").attr("font-size", 23).attr("fill", "#000");
  });
}

function yAxis(scale, side, values, fmt, color, pad) {
  const ax = (side === "left" ? d3.axisLeft(scale) : d3.axisRight(scale))
    .tickValues(values).tickSizeInner(-8).tickSizeOuter(0).tickPadding(pad).tickFormat(fmt);
  const g = svg.append("g").attr("transform", `translate(${side === "left" ? L : R},0)`).call(ax);
  g.select(".domain").remove();
  g.selectAll(".tick line").attr("stroke", color).attr("stroke-width", 1.3);
  g.selectAll("text").attr("font-size", 23).attr("fill", color);
  return g;
}

function frame(k, leftColor, rightColor) {
  const [t, b] = panels[k];
  svg.append("rect").attr("x", L).attr("y", t).attr("width", R - L).attr("height", b - t)
    .attr("fill", "none").attr("stroke", "#000").attr("stroke-width", 1.6);
  svg.append("line").attr("x1", L).attr("x2", L).attr("y1", t).attr("y2", b)
    .attr("stroke", leftColor).attr("stroke-width", 1.6);
  svg.append("line").attr("x1", R).attr("x2", R).attr("y1", t).attr("y2", b)
    .attr("stroke", rightColor).attr("stroke-width", 1.6);
}

// rotated title built from pieces: [text, baseline shift, font size, class]
function vTitle(cx, cy, pieces, color) {
  const t = svg.append("text").attr("transform", `translate(${cx},${cy}) rotate(-90)`)
    .attr("text-anchor", "middle").attr("fill", color);
  let cur = 0;
  pieces.forEach(([s, shift, size, cls]) => {
    const sp = t.append("tspan").text(s).attr("font-size", size).attr("dy", shift - cur);
    if (cls) sp.attr("class", cls);
    cur = shift;
  });
  return t;
}

function legendSwatch(x1, x2, y, color) {
  svg.append("line").attr("x1", x1).attr("x2", x2).attr("y1", y).attr("y2", y)
    .attr("stroke", color).attr("stroke-width", 2.6);
}

function panelTag(px, py, s) {
  svg.append("text").attr("x", px).attr("y", py).attr("font-size", 26).attr("fill", "#000").text(s);
}

const smooth = d3.curveCatmullRom.alpha(0.5);

// ================= panel a =================
drawLine("a", windWork, yA2, DGREEN, 2.6);
drawLine("a", windU, yA, BLUE, 2.4);
frame("a", BLUE, SPINEGREEN);
xTicks(panels.a[0], panels.a[1], false);
yAxis(yA, "left", windTicks, minus, BLUE, 3);
yAxis(yA2, "right", workTicks, minus, AXGREEN, 8);
vTitle(41, 118, [["u", 0, 26], ["wind", 7, 18], [" / ms", 0, 26], ["\u22121", -10, 18]], BLUE);
vTitle(1158, 115, [["\u03a0", 0, 26, "serif"], [" (50) / kj m", 0, 26], ["\u22122", -10, 18]], AXGREEN);
svg.append("text").attr("x", 122).attr("y", 61).attr("font-size", 26).attr("fill", "#000").text("u")
  .append("tspan").attr("font-size", 19).attr("dy", 9).text("wind");
legendSwatch(200, 231, 60, BLUE);
const piLeg = svg.append("text").attr("x", 263).attr("y", 69).attr("font-size", 26).attr("fill", "#000");
piLeg.append("tspan").attr("class", "serif").text("\u03a0");
piLeg.append("tspan").text("(50)");
legendSwatch(345, 376, 60, DGREEN);
panelTag(1047, 43, "a");

// ================= panel b =================
drawLine("b", hkeInertial, yB, LGREEN, 2.4, smooth);
drawLine("b", hkeDiurnal, yB, BLUE, 2.6, smooth);
frame("b", "#000", "#000");
xTicks(panels.b[0], panels.b[1], false);
yAxis(yB, "left", hkeBTicks, (d, i) => hkeBTickText[i], "#000", 10);
yAxis(yB, "right", hkeBTicks, "", "#000", 8);
vTitle(42, 350, [["HKE / m", 0, 26], ["2", -10, 18], ["s", 0, 26], ["\u22122", -10, 18]], "#000");
svg.append("text").attr("x", 208).attr("y", 293).attr("font-size", 26).text("inertial");
legendSwatch(292, 323, 285, LGREEN);
svg.append("text").attr("x", 342).attr("y", 293).attr("font-size", 26).text("diurnal");
legendSwatch(425, 457, 285, BLUE);
panelTag(1047, 275, "b");

// ================= panel c =================
drawLine("c", hkeInertial2x, yC, MAG, 2.4, smooth);
drawLine("c", logEps, yC2, DGREEN, 2.4);
drawLine("c", hkeTidal, yC, BLUE, 2.4);
frame("c", BLUE, SPINEGREEN);
xTicks(panels.c[0], panels.c[1], false);
yAxis(yC, "left", hkeCTicks, (d, i) => hkeCTickText[i], BLUE, 10);
yAxis(yC2, "right", epsTicks, minus, AXGREEN, 8);
vTitle(42, 584, [["HKE / m", 0, 26], ["2", -10, 18], ["s", 0, 26], ["\u22122", -10, 18]], BLUE);
vTitle(1163, 585, [["log", 0, 26], ["10", 7, 18], ["(", 0, 26], ["\u03b5", 0, 24, "serif"], ["/ Wkg", 0, 26], ["\u22121", -10, 18], [")", 0, 26]], AXGREEN);
svg.append("text").attr("x", 547).attr("y", 523).attr("font-size", 26).text("diurnal+semidurnal");
legendSwatch(775, 806, 513, BLUE);
svg.append("text").attr("x", 822).attr("y", 521).attr("font-size", 24).attr("class", "serif").text("\u03b5");
legendSwatch(841, 872, 513, DGREEN);
svg.append("text").attr("x", 890).attr("y", 523).attr("font-size", 26).text("2 x inertial");
legendSwatch(1015, 1046, 513, MAG);
panelTag(1053, 507, "c");

// ================= panel d =================
const dt = 0.1, dz = 0.005;
const nx = Math.round((epsRecordEnd - epsRecordStart) / dt);
const nz = Math.round(epsMaxDepth / dz);
const field = new Float64Array(nx * nz);
for (let j = 0; j < nz; j++) {
  const z = (j + 0.5) * dz;
  for (let i = 0; i < nx; i++) {
    const t = epsRecordStart + (i + 0.5) * dt;
    let s = 0;
    for (const p of epsPatches) {
      const r2 = ((t - p[0]) / p[2]) ** 2 + ((z - p[1]) / p[3]) ** 2;
      if (r2 < 3) s += Math.pow(10, p[4] - (p[4] + 10.1) * r2);
    }
    field[j * nx + i] = s > 0 ? Math.max(Math.log10(s), -20) : -20;
  }
}
const contours = d3.contours().size([nx, nz]).thresholds(epsLevels)(field);
const gridProj = d3.geoTransform({
  point(px, py) { this.stream.point(x(epsRecordStart + px * dt), yD(py * dz)); }
});
const gpath = d3.geoPath(gridProj);
const gD = svg.append("g").attr("clip-path", "url(#clip-d)");
gD.selectAll("path").data(contours).join("path")
  .attr("d", gpath)
  .attr("fill", d => cmap(d.value))
  .attr("stroke", "#111").attr("stroke-width", 1.1).attr("stroke-linejoin", "round");
gD.append("line").attr("x1", x(epsRecordStart)).attr("x2", x(epsRecordEnd))
  .attr("y1", yD(epsMaxDepth)).attr("y2", yD(epsMaxDepth))
  .attr("stroke", "#777").attr("stroke-width", 1).attr("stroke-dasharray", "1.5,1.5");

frame("d", "#000", "#000");
xTicks(panels.d[0], panels.d[1], true);
yAxis(yD, "left", depthTicks, d3.format(".1f"), "#000", 8);
yAxis(yD, "right", depthTicks.slice(1), "", "#000", 8);
vTitle(50, 817, [["Depth / km", 0, 24]], "#000");
panelTag(1047, 738, "d");

// colour bar
const cbX = 1078, cbW = 15;
const cbScale = d3.scaleLinear().domain([-10, -5]).range([panels.d[1], panels.d[0]]);
const grad = defs.append("linearGradient").attr("id", "cbar")
  .attr("x1", 0).attr("y1", 1).attr("x2", 0).attr("y2", 0);
cmapStops.forEach((v, i) => {
  grad.append("stop").attr("offset", (v + 10) / 5).attr("stop-color", cmapColors[i]);
});
svg.append("rect").attr("x", cbX).attr("y", panels.d[0]).attr("width", cbW)
  .attr("height", panels.d[1] - panels.d[0]).attr("fill", "url(#cbar)")
  .attr("stroke", "#000").attr("stroke-width", 1.3);
const gcb = svg.append("g").attr("transform", `translate(${cbX + cbW},0)`)
  .call(d3.axisRight(cbScale).tickValues(cbarTicks).tickSizeInner(4).tickSizeOuter(0).tickPadding(1).tickFormat(minus));
gcb.select(".domain").remove();
gcb.selectAll(".tick line").attr("stroke", "#000");
gcb.selectAll("text").attr("font-size", 23).attr("fill", "#000");
vTitle(1165, 823, [["log", 0, 26], ["10", 7, 18], ["(", 0, 26], ["\u03b5", 0, 24, "serif"], ["/ Wkg", 0, 26], ["\u22121", -10, 18], [")", 0, 26]], "#000");
</script>
</body>
</html>
